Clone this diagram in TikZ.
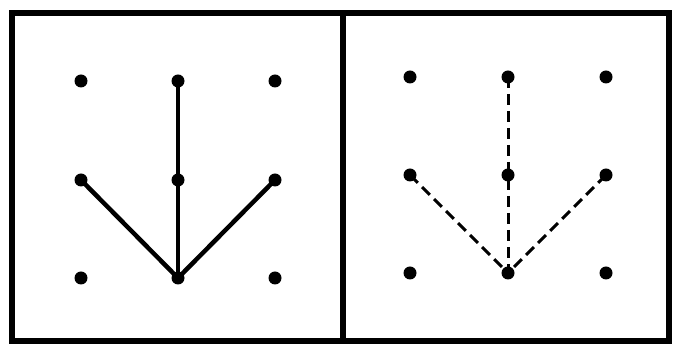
\documentclass[tikz,border=0pt]{standalone}
\begin{document}
\begin{tikzpicture}[x=1pt,y=-1pt,
  dot/.style={circle,fill=black,inner sep=0pt,minimum size=13pt},
  frame/.style={line width=5.5pt,line cap=rect},
  solidln/.style={line width=4.5pt},
  dashln/.style={line width=3pt,dash pattern=on 11pt off 6pt}]
\useasboundingbox (0,0) rectangle (673,344);
\fill[white] (0,0) rectangle (673,344);
\draw[frame] (12,13) rectangle (669,341);
\draw[frame] (343,13) -- (343,341);
% left panel
\foreach \c/\x in {1/81,2/178,3/275}{
  \foreach \r/\y in {1/81,2/180,3/278}{
    \node[dot] (L\r\c) at (\x,\y) {};
  }}
\draw[solidln] (L12.center) -- (L22.center) -- (L32.center);
\draw[solidln,line join=round] (L21.center) -- (L32.center) -- (L23.center);
% right panel
\foreach \c/\x in {1/410,2/508,3/606}{
  \foreach \r/\y in {1/77,2/175,3/273}{
    \node[dot] (R\r\c) at (\x,\y) {};
  }}
\draw[dashln] (R12.center) -- (R32.center);
\draw[dashln] (R21.center) -- (R32.center);
\draw[dashln] (R23.center) -- (R32.center);
\end{tikzpicture}
\end{document}
